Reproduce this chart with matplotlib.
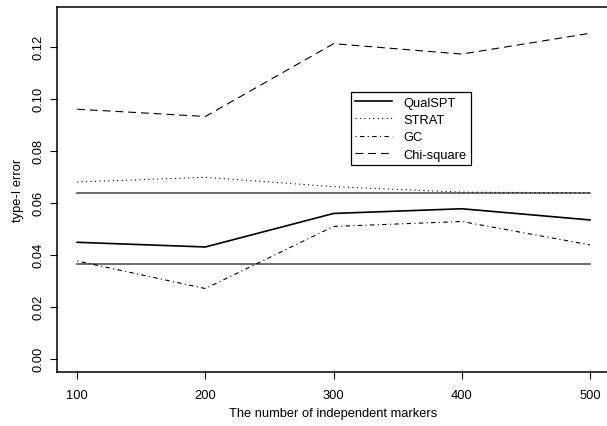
import numpy as np
import matplotlib.pyplot as plt

plt.rcParams['font.family'] = ['Liberation Sans', 'DejaVu Sans']

# Data
markers = [100, 200, 300, 400, 500]
qualspt = [0.0448, 0.0430, 0.0559, 0.0577, 0.0534]
strat = [0.0680, 0.0698, 0.0662, 0.0641, 0.0638]
gc = [0.0376, 0.0270, 0.0509, 0.0528, 0.0438]
chisq = [0.0960, 0.0932, 0.1212, 0.1172, 0.1252]
bounds = [0.0636, 0.0364]

fig = plt.figure(figsize=(6.07, 4.27), dpi=100)
# right edge of the box sits just past the image border, as in the reference
ax = fig.add_axes([0.0934, 0.1258, 0.9124, 0.8548])

# Reference band (horizontal lines)
for b in bounds:
    ax.plot([markers[0], markers[-1]], [b, b], color="#555555", linewidth=1.2)

ax.plot(markers, qualspt, color="black", linewidth=1.2, label="QualSPT")
ax.plot(markers, strat, color="black", linewidth=0.8, dashes=(1, 3), label="STRAT")
ax.plot(markers, gc, color="black", linewidth=0.8, dashes=(1, 3, 4, 3), label="GC")
ax.plot(markers, chisq, color="black", linewidth=0.8, dashes=(7, 4.5), label="Chi-square")

ax.set_xlim(84, 516)
ax.set_ylim(-0.0052, 0.1352)
ax.set_xticks(markers)
ax.set_yticks(np.arange(0, 0.13, 0.02))
ax.set_yticklabels(["0.00", "0.02", "0.04", "0.06", "0.08", "0.10", "0.12"],
                   rotation=90, va="center")
ax.tick_params(direction="out", length=5, width=0.8, labelsize=9.3)
ax.tick_params(axis="x", pad=7)
ax.tick_params(axis="y", pad=4)

for s in ax.spines.values():
    s.set_linewidth(1.1)

ax.set_xlabel("The number of independent markers", fontsize=9.3, labelpad=4)
ax.set_ylabel("type-I error", fontsize=9.3, labelpad=6)

leg = ax.legend(loc="upper left", bbox_to_anchor=(0.531, 0.768), fontsize=9.3,
                frameon=True, fancybox=False, edgecolor="black", framealpha=1,
                borderaxespad=0, handlelength=2.85, handletextpad=0.85,
                labelspacing=0.42, borderpad=0.35)
leg.get_frame().set_linewidth(0.9)

fig.savefig("out.png", dpi=100)
